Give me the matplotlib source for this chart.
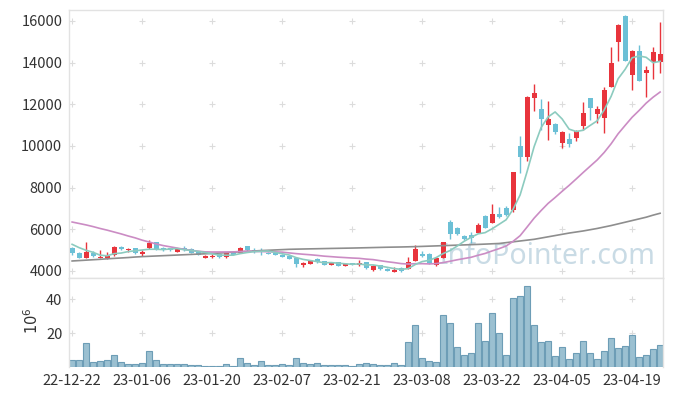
import numpy as np
import pandas as pd
import matplotlib
matplotlib.use('Agg')
import matplotlib.pyplot as plt

plt.rcParams['font.family'] = ['Noto Sans CJK KR', 'DejaVu Sans']

# Daily candles (22-12-22 .. 23-04-25)
opens = [5088, 4848, 4608, 4880, 4608, 4608, 4768, 5152, 4992, 5088,
         4800, 5088, 5376, 5120, 5088, 4928, 5088, 5072, 4896, 4640,
         4672, 4816, 4656, 4928, 4880, 5200, 5008, 5008, 4880, 4864,
         4784, 4736, 4640, 4272, 4352, 4592, 4480, 4304, 4432, 4256,
         4384, 4288, 4432, 4032, 4272, 4112, 3968, 4144, 4112, 4496,
         4816, 4816, 4288, 4640, 6368, 6064, 5680, 5712, 5840, 6640,
         6320, 6720, 7024, 6928, 10000, 9488, 12320, 11776, 11008, 11040,
         10160, 10336, 10400, 10960, 12288, 11552, 11360, 12848, 15008, 16240,
         13408, 14560, 13520, 14048, 14048]
highs = [5168, 4896, 5408, 4960, 5008, 4928, 5200, 5200, 5104, 5120,
         5008, 5472, 5408, 5152, 5120, 5088, 5216, 5100, 4910, 4760,
         4800, 4830, 4900, 4950, 5168, 5210, 5088, 5120, 4900, 4880,
         4800, 4750, 4660, 4448, 4520, 4640, 4500, 4420, 4450, 4370,
         4400, 4512, 4450, 4270, 4290, 4130, 4176, 4170, 4688, 5248,
         4960, 4850, 4680, 5400, 6448, 6130, 5720, 5872, 6280, 6700,
         7216, 7088, 7100, 8760, 10480, 12400, 12976, 12272, 12144, 11100,
         10700, 10608, 10760, 12112, 12320, 11920, 12816, 14740, 15856, 16290,
         14600, 14848, 13824, 14768, 15936]
lows = [4768, 4608, 4600, 4688, 4600, 4576, 4736, 4992, 4928, 4816,
        4736, 5056, 5024, 4960, 4976, 4896, 4976, 4860, 4750, 4620,
        4608, 4640, 4640, 4750, 4848, 4980, 4880, 4752, 4820, 4750,
        4650, 4570, 4208, 4208, 4330, 4400, 4290, 4290, 4240, 4240,
        4290, 4240, 4096, 4010, 4060, 4000, 3936, 3960, 4080, 4460,
        4688, 4350, 4260, 4620, 5520, 5750, 5480, 5328, 5800, 6050,
        6290, 6528, 6650, 6832, 8720, 9296, 11680, 10768, 10288, 10560,
        9888, 9968, 10224, 10768, 11248, 11088, 10608, 12820, 14080, 14060,
        12688, 13100, 12336, 13200, 13488]
closes = [4880, 4640, 4896, 4720, 4656, 4736, 5152, 5040, 5072, 4848,
          4928, 5328, 5040, 4992, 4992, 5040, 5024, 4880, 4768, 4736,
          4720, 4688, 4880, 4768, 5104, 4992, 4896, 4976, 4832, 4768,
          4672, 4592, 4352, 4400, 4496, 4416, 4304, 4400, 4256, 4352,
          4304, 4384, 4160, 4256, 4080, 4016, 4064, 3984, 4416, 5056,
          4736, 4368, 4640, 5376, 5792, 5792, 5520, 5600, 6208, 6080,
          6720, 6592, 6688, 8752, 9488, 12352, 12544, 11280, 11296, 10688,
          10672, 10096, 10720, 11584, 11840, 11776, 12688, 14000, 15808, 14096,
          14560, 13136, 13664, 14512, 14432]
volumes = [4.1, 4.1, 14.1, 2.9, 3.5, 4.1, 7.1, 2.9, 1.8, 1.8,
           2.4, 9.4, 4.1, 1.8, 1.8, 1.8, 1.8, 1.2, 1.2, 0.6,
           0.6, 0.6, 1.8, 0.6, 5.3, 2.4, 1.2, 3.5, 1.2, 1.2,
           1.8, 1.2, 5.3, 2.4, 1.8, 2.4, 1.2, 1.2, 1.2, 1.2,
           0.6, 1.8, 2.4, 1.8, 1.2, 1.2, 2.4, 1.2, 14.7, 24.7,
           5.3, 3.5, 2.9, 30.6, 25.9, 11.8, 7.1, 8.2, 25.9, 15.3,
           31.8, 20.0, 7.1, 40.6, 41.8, 47.6, 24.7, 14.7, 15.3, 6.5,
           11.8, 4.7, 8.2, 15.3, 8.2, 4.7, 9.4, 17.1, 11.2, 12.4,
           18.8, 5.9, 7.1, 10.6, 12.9]

# moving-average values before enough in-window closes exist
ma5_head = [5280, 5120, 4992, 4896]
ma20_head = [6350, 6280, 6210, 6130, 6040, 5960, 5870, 5780, 5680, 5590,
             5480, 5390, 5300, 5220, 5160, 5100, 5040, 4990, 4950]
# long moving average (grey)
ma_long = [4480, 4500, 4520, 4540, 4560, 4585, 4605, 4625, 4645, 4670,
           4690, 4705, 4720, 4735, 4750, 4765, 4780, 4795, 4810, 4825,
           4840, 4860, 4880, 4900, 4920, 4940, 4960, 4980, 4995, 5010,
           5025, 5040, 5048, 5055, 5062, 5068, 5075, 5082, 5088, 5094,
           5100, 5108, 5116, 5124, 5132, 5140, 5146, 5152, 5160, 5170,
           5180, 5192, 5204, 5216, 5228, 5240, 5252, 5264, 5276, 5290,
           5305, 5320, 5360, 5400, 5440, 5480, 5520, 5580, 5640, 5700,
           5760, 5820, 5870, 5920, 5980, 6040, 6110, 6180, 6260, 6340,
           6420, 6500, 6580, 6680, 6770]

tick_labels = ['22-12-22', '23-01-06', '23-01-20', '23-02-07', '23-02-21',
               '23-03-08', '23-03-22', '23-04-05', '23-04-19']

o = np.array(opens, float)
h = np.array(highs, float)
l = np.array(lows, float)
c = np.array(closes, float)
x = np.arange(len(c))

ma5 = pd.Series(c).rolling(5).mean().to_numpy()
ma5[:len(ma5_head)] = ma5_head
ma20 = pd.Series(c).rolling(20).mean().to_numpy()
ma20[:len(ma20_head)] = ma20_head

up_col = '#e8343c'
dn_col = '#6cc0d6'
grid_col = '#dcdcdc'
text_col = '#333333'

fig = plt.figure(figsize=(6.73, 3.96), dpi=100)
ax = fig.add_axes([0.103, 0.298, 0.882, 0.677])
axv = fig.add_axes([0.103, 0.0725, 0.882, 0.2255], sharex=ax)

# watermark
ax.text(0.806, 0.08, 'InfoPointer.com', transform=ax.transAxes, ha='center', va='center',
        fontsize=20.5, color='#c9dbe5', family=['Noto Sans', 'DejaVu Sans'], zorder=0)

up = c >= o
cols = np.where(up, up_col, dn_col)
ax.vlines(x, l, h, colors=cols, linewidth=1, zorder=2)
body = np.maximum(np.abs(c - o), 40)
ax.bar(x, body, bottom=np.minimum(o, c), width=0.7, color=cols, zorder=3)

ax.plot(x, ma_long, color='#8e8e8e', lw=1.2, zorder=4)
ax.plot(x, ma20, color='#cb8cc4', lw=1.2, zorder=4)
ax.plot(x, ma5, color='#8ccbbf', lw=1.2, zorder=4)

axv.bar(x, volumes, width=0.95, color='#9bc0d1', edgecolor='#6d9db6', linewidth=0.8, zorder=2)

ax.set_xlim(-0.4, 84.4)
ax.set_ylim(3664, 16528)
axv.set_ylim(0, 52.5)

yt = [4000, 6000, 8000, 10000, 12000, 14000, 16000]
vt = [20, 40]
xt = np.arange(0, 90, 10)

# grid drawn as small crosses
gx, gy = np.meshgrid(xt, yt)
ax.plot(gx.ravel(), gy.ravel(), ls='none', marker='+', ms=5, mew=0.8, color=grid_col, zorder=1)
gx, gy = np.meshgrid(xt, vt)
axv.plot(gx.ravel(), gy.ravel(), ls='none', marker='+', ms=5, mew=0.8, color=grid_col, zorder=1)

ax.set_yticks(yt)
ax.set_yticklabels([str(v) for v in yt])
axv.set_yticks(vt)
axv.set_xticks(xt)
axv.set_xticklabels(tick_labels)
plt.setp(ax.get_xticklabels(), visible=False)

for a in (ax, axv):
    a.tick_params(length=0, labelsize=10.5, colors=text_col, pad=5)
    for s in a.spines.values():
        s.set_color('#e2e2e2')
        s.set_linewidth(1)
axv.spines['bottom'].set_visible(False)

fig.text(0.047, 0.19, r'$10^6$', rotation=90, ha='center', va='center', fontsize=10.5, color=text_col)

fig.savefig('out.png', dpi=100, facecolor='white')
